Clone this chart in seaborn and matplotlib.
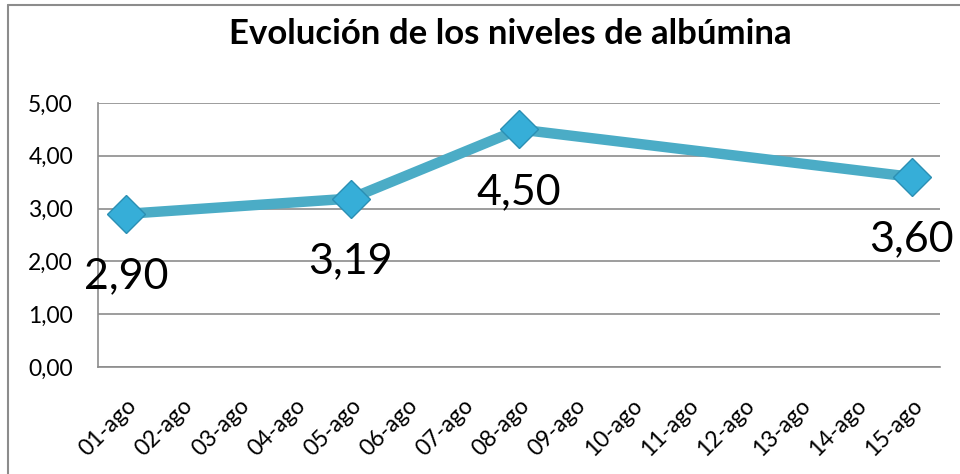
import matplotlib
matplotlib.use("Agg")
import matplotlib.pyplot as plt
import seaborn as sns
import pandas as pd
from matplotlib.lines import Line2D

days = ["01-ago", "02-ago", "03-ago", "04-ago", "05-ago", "06-ago", "07-ago", "08-ago",
        "09-ago", "10-ago", "11-ago", "12-ago", "13-ago", "14-ago", "15-ago"]
point_days = ["01-ago", "05-ago", "08-ago", "15-ago"]
albumina = [2.90, 3.19, 4.50, 3.60]
yticks = [0, 1, 2, 3, 4, 5]

sns.set_theme(style="white")
plt.rcParams["font.family"] = ["Lato", "DejaVu Sans"]
plt.rcParams["text.color"] = "black"

df = pd.DataFrame({"x": [days.index(d) for d in point_days], "y": albumina})

fig = plt.figure(figsize=(9.6, 4.74), dpi=100)
ax = fig.add_axes([98 / 960, 1 - 367 / 474, (940 - 98) / 960, (367 - 103) / 474])

sns.lineplot(data=df, x="x", y="y", ax=ax, color="#4BACC6", linewidth=7.5,
             marker="D", markersize=19, markerfacecolor="#36AED8",
             markeredgecolor="#2B8FB3", markeredgewidth=1.0, zorder=3)

for xv, yv in zip(df["x"], df["y"]):
    ax.annotate(f"{yv:.2f}".replace(".", ","), (xv, yv), xytext=(0, -45),
                textcoords="offset points", ha="center", va="center",
                fontsize=31, color="black", zorder=4)

ax.set_xlim(-0.5, len(days) - 0.5)
ax.set_ylim(0, 5)
ax.set_yticks(yticks)
ax.set_yticklabels([f"{v:.2f}".replace(".", ",") for v in yticks], fontsize=16.5)
ax.set_xticks(range(len(days)))
ax.set_xticklabels(days, rotation=45, ha="right", rotation_mode="anchor", fontsize=16.5)
ax.set_xticks([i - 0.5 for i in range(len(days) + 1)], minor=True)
ax.tick_params(axis="x", which="major", length=0, pad=20)
ax.tick_params(axis="x", which="minor", length=5, color="#8C8C8C", width=1.2, direction="out")
ax.tick_params(axis="y", length=0, pad=18, colors="black")
ax.tick_params(axis="x", colors="black")
ax.grid(axis="y", color="#8C8C8C", linewidth=1.2)
ax.set_axisbelow(True)
ax.set_xlabel("")
ax.set_ylabel("")
for side in ["top", "right"]:
    ax.spines[side].set_visible(False)
for side in ["left", "bottom"]:
    ax.spines[side].set_color("#8C8C8C")
    ax.spines[side].set_linewidth(1.2)

fig.text(0.532, 1 - 34 / 474, "Evolución de los niveles de albúmina", ha="center", va="center",
         fontsize=25, fontweight="bold", color="black")

fig.add_artist(Line2D([8 / 960, 8 / 960], [0, 1 - 5 / 474], color="#8C8C8C", linewidth=1.5))
fig.add_artist(Line2D([8 / 960, 1], [1 - 5 / 474, 1 - 5 / 474], color="#8C8C8C", linewidth=1.5))

fig.savefig("out.png", dpi=100)
